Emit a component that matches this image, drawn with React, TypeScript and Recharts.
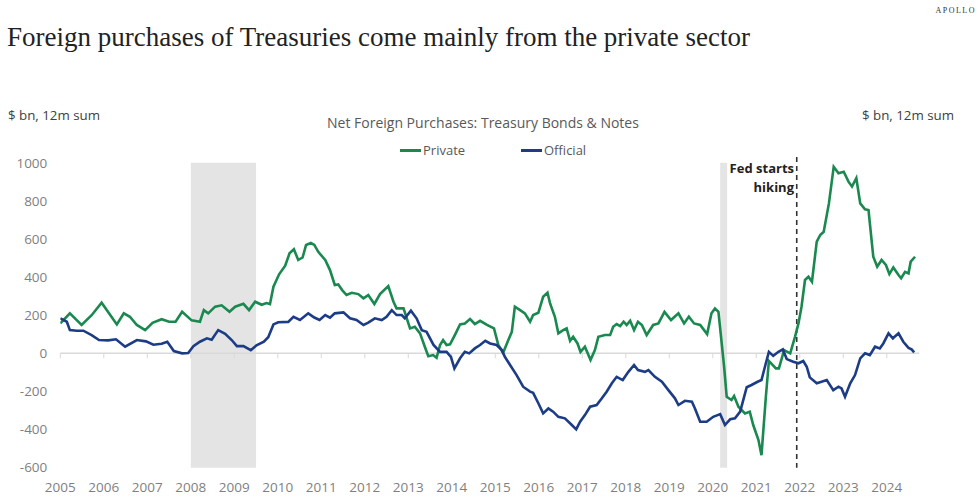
import { LineChart, Line, XAxis, YAxis, ReferenceArea, ReferenceLine } from 'recharts';

// year ticks and value ticks
const years = [2005, 2006, 2007, 2008, 2009, 2010, 2011, 2012, 2013, 2014, 2015, 2016, 2017, 2018, 2019, 2020, 2021, 2022, 2023, 2024];
const valueTicks = [-600, -400, -200, 0, 200, 400, 600, 800, 1000];

// recessions (shaded) and Fed hiking marker
const recessions = [
  [2008.0, 2009.5],
  [2020.17, 2020.33],
];
const fedHike = 2021.93;

// Private, $bn 12m sum: [decimal year, value]
const privatePoints: [number, number][] = [
  [2005.0, 157], [2005.22, 210], [2005.49, 149], [2005.72, 200], [2005.95, 266], [2006.3, 152], [2006.46, 210],
  [2006.6, 192], [2006.76, 149], [2006.95, 122], [2007.12, 160], [2007.33, 179], [2007.5, 166], [2007.65, 166],
  [2007.8, 218], [2008.02, 173], [2008.21, 166], [2008.3, 227], [2008.4, 210], [2008.56, 245], [2008.71, 252],
  [2008.89, 218], [2009.02, 245], [2009.21, 260], [2009.34, 227], [2009.48, 271], [2009.63, 255], [2009.74, 264],
  [2009.82, 259], [2009.9, 350], [2010.03, 415], [2010.17, 460], [2010.27, 525], [2010.37, 546], [2010.47, 490],
  [2010.57, 503], [2010.65, 569], [2010.76, 579], [2010.84, 569], [2010.93, 533], [2011.09, 490], [2011.2, 437],
  [2011.31, 359], [2011.39, 362], [2011.48, 332], [2011.58, 306], [2011.7, 318], [2011.85, 311], [2011.97, 289],
  [2012.08, 306], [2012.22, 259], [2012.35, 311], [2012.54, 353], [2012.66, 271], [2012.73, 236], [2012.89, 236],
  [2013.04, 131], [2013.15, 140], [2013.27, 105], [2013.38, 35], [2013.46, -15], [2013.57, -9], [2013.65, -23],
  [2013.73, 44], [2013.8, 70], [2013.88, 44], [2013.96, 47], [2014.07, 96], [2014.19, 152], [2014.3, 157],
  [2014.42, 180], [2014.53, 154], [2014.65, 171], [2014.81, 149], [2014.97, 131], [2015.07, 44], [2015.18, 3],
  [2015.3, 70], [2015.38, 113], [2015.45, 245], [2015.57, 227], [2015.68, 210], [2015.8, 166], [2015.87, 201],
  [2015.99, 213], [2016.1, 297], [2016.2, 318], [2016.26, 262], [2016.37, 192], [2016.45, 105], [2016.56, 122],
  [2016.64, 131], [2016.72, 66], [2016.79, 87], [2016.89, 52], [2016.96, 8], [2017.06, 35], [2017.19, -35],
  [2017.29, 17], [2017.37, 87], [2017.52, 96], [2017.64, 96], [2017.71, 140], [2017.79, 154], [2017.87, 143],
  [2017.95, 166], [2018.02, 149], [2018.1, 171], [2018.19, 122], [2018.28, 166], [2018.37, 149], [2018.48, 96],
  [2018.63, 149], [2018.75, 157], [2018.89, 218], [2019.04, 175], [2019.21, 210], [2019.34, 157], [2019.45, 192],
  [2019.57, 157], [2019.71, 149], [2019.87, 101], [2019.97, 210], [2020.05, 236], [2020.13, 218], [2020.19, 87],
  [2020.26, -70], [2020.32, -228], [2020.43, -245], [2020.49, -224], [2020.59, -280], [2020.74, -315], [2020.85, -306],
  [2020.93, -376], [2021.05, -455], [2021.12, -534], [2021.22, -228], [2021.29, -40], [2021.45, -79], [2021.52, -79],
  [2021.64, 17], [2021.78, 0], [2021.89, 87], [2021.97, 157], [2022.04, 245], [2022.12, 385], [2022.2, 402],
  [2022.28, 376], [2022.39, 586], [2022.47, 621], [2022.55, 638], [2022.67, 787], [2022.78, 979], [2022.89, 945],
  [2023.01, 953], [2023.12, 901], [2023.2, 875], [2023.3, 919], [2023.39, 787], [2023.5, 756], [2023.58, 752],
  [2023.69, 507], [2023.78, 455], [2023.88, 490], [2023.98, 464], [2024.06, 416], [2024.15, 451], [2024.27, 411],
  [2024.33, 394], [2024.42, 428], [2024.5, 420], [2024.55, 481], [2024.65, 507],
];

// Official, $bn 12m sum
const officialPoints: [number, number][] = [
  [2005.0, 184], [2005.15, 166], [2005.22, 122], [2005.38, 119], [2005.53, 119], [2005.72, 96], [2005.89, 70],
  [2006.1, 68], [2006.28, 74], [2006.49, 35], [2006.76, 70], [2006.97, 63], [2007.14, 45], [2007.33, 50],
  [2007.46, 61], [2007.61, 12], [2007.8, 0], [2007.94, 2], [2008.06, 38], [2008.21, 61], [2008.37, 79],
  [2008.48, 72], [2008.63, 122], [2008.79, 103], [2008.94, 70], [2009.06, 38], [2009.21, 38], [2009.38, 17],
  [2009.51, 42], [2009.68, 61], [2009.78, 85], [2009.9, 152], [2010.01, 163], [2010.24, 165], [2010.36, 192],
  [2010.51, 175], [2010.7, 210], [2010.84, 188], [2010.96, 175], [2011.09, 201], [2011.2, 187], [2011.31, 210],
  [2011.51, 215], [2011.66, 184], [2011.81, 175], [2011.97, 149], [2012.08, 161], [2012.23, 184], [2012.39, 175],
  [2012.5, 192], [2012.62, 227], [2012.73, 201], [2012.85, 201], [2012.92, 184], [2013.06, 224], [2013.19, 184],
  [2013.31, 122], [2013.42, 113], [2013.58, 44], [2013.73, 8], [2013.88, 8], [2013.98, -18], [2014.06, -79],
  [2014.19, -26], [2014.3, 8], [2014.4, 0], [2014.53, 26], [2014.65, 44], [2014.77, 66], [2014.88, 52],
  [2015.03, 44], [2015.15, 17], [2015.22, -18], [2015.34, -61], [2015.49, -114], [2015.64, -175], [2015.8, -201],
  [2015.87, -207], [2015.99, -262], [2016.1, -315], [2016.22, -289], [2016.33, -306], [2016.45, -333], [2016.6, -341],
  [2016.76, -376], [2016.86, -399], [2016.95, -359], [2017.06, -324], [2017.18, -280], [2017.33, -271], [2017.45, -236],
  [2017.56, -201], [2017.68, -157], [2017.79, -123], [2017.93, -140], [2018.06, -97], [2018.19, -61], [2018.28, -88],
  [2018.44, -97], [2018.52, -88], [2018.67, -123], [2018.83, -149], [2018.98, -193], [2019.13, -236], [2019.21, -271],
  [2019.36, -249], [2019.52, -254], [2019.59, -289], [2019.71, -359], [2019.86, -359], [2020.01, -333], [2020.17, -319],
  [2020.28, -376], [2020.4, -346], [2020.51, -341], [2020.63, -306], [2020.78, -178], [2020.89, -166], [2021.03, -149],
  [2021.12, -140], [2021.22, -52], [2021.29, 8], [2021.39, -13], [2021.51, 8], [2021.61, 21], [2021.7, -30],
  [2021.85, -44], [2021.97, -52], [2022.08, -40], [2022.16, -70], [2022.23, -126], [2022.39, -157], [2022.5, -149],
  [2022.62, -140], [2022.77, -193], [2022.89, -175], [2022.96, -184], [2023.04, -228], [2023.16, -157], [2023.27, -114],
  [2023.39, -26], [2023.5, 0], [2023.61, -9], [2023.73, 35], [2023.84, 26], [2023.92, 52], [2024.04, 105],
  [2024.14, 79], [2024.27, 105], [2024.38, 61], [2024.5, 29], [2024.57, 21], [2024.63, 5],
];

const series = [
  { name: 'Private', color: '#19894f', points: privatePoints },
  { name: 'Official', color: '#1d3c86', points: officialPoints },
];

const SANS = '"Open Sans", "Noto Sans", sans-serif';
const tickStyle = { fill: '#7f7f7f', fontSize: 13.5, fontFamily: SANS };

export default function App() {
  return (
    <div style={{ position: 'absolute', left: 0, top: 0, width: 978, height: 500, background: '#fff', overflow: 'hidden' }}>
      <div style={{ position: 'absolute', right: 2, top: 6, fontFamily: '"Liberation Serif", serif', fontSize: 8, letterSpacing: 1.5, color: '#333' }}>
        APOLLO
      </div>
      <div style={{ position: 'absolute', left: 7, top: 24, fontFamily: '"Liberation Serif", serif', fontSize: 27, lineHeight: '27px', color: '#222', whiteSpace: 'nowrap' }}>
        Foreign purchases of Treasuries come mainly from the private sector
      </div>

      <LineChart width={978} height={500} margin={{ top: 162.8, right: 0, bottom: 2.3, left: 0 }}>
        {recessions.map(([a, b]) => (
          <ReferenceArea key={a} yAxisId="left" x1={a} x2={b} y1={-600} y2={1000} fill="#e4e4e4" fillOpacity={1} stroke="none" />
        ))}
        <ReferenceLine yAxisId="left" y={0} stroke="#d9d9d9" strokeWidth={1.5} />
        {years.map(y => (
          <ReferenceLine key={y} yAxisId="left" segment={[{ x: y, y: 0 }, { x: y, y: -26 }]} stroke="#d9d9d9" strokeWidth={1} />
        ))}
        <XAxis
          dataKey="t"
          type="number"
          domain={[2005, 2024.75]}
          ticks={years}
          interval={0}
          allowDataOverflow
          axisLine={false}
          tickLine={false}
          tickSize={0}
          tickMargin={15}
          height={30}
          tick={tickStyle}
        />
        <YAxis yAxisId="left" orientation="left" width={60.3} domain={[-600, 1000]} ticks={valueTicks}
          axisLine={false} tickLine={false} tickSize={0} tickMargin={13} tick={tickStyle} />
        <YAxis yAxisId="right" orientation="right" width={58.6} domain={[-600, 1000]} ticks={valueTicks}
          axisLine={false} tickLine={false} tickSize={0} tickMargin={12} tick={{ ...tickStyle, textAnchor: 'start' }} />
        <ReferenceLine yAxisId="left" ifOverflow="visible" segment={[{ x: fedHike, y: 1030 }, { x: fedHike, y: -600 }]}
          stroke="#333" strokeWidth={1.6} strokeDasharray="5 4" />
        {series.map(s => (
          <Line
            key={s.name}
            yAxisId="left"
            data={s.points.map(([t, v]) => ({ t, v }))}
            dataKey="v"
            name={s.name}
            type="linear"
            stroke={s.color}
            strokeWidth={2.6}
            dot={false}
            activeDot={false}
            isAnimationActive={false}
          />
        ))}
      </LineChart>

      <div style={{ position: 'absolute', left: 8, top: 106, fontFamily: SANS, fontSize: 13.3, color: '#404040' }}>$ bn, 12m sum</div>
      <div style={{ position: 'absolute', left: 862, top: 106, fontFamily: SANS, fontSize: 13.3, color: '#404040' }}>$ bn, 12m sum</div>
      <div style={{ position: 'absolute', left: 327, top: 113, fontFamily: SANS, fontSize: 14, color: '#595959', whiteSpace: 'nowrap' }}>
        Net Foreign Purchases: Treasury Bonds &amp; Notes
      </div>
      {series.map((s, i) => (
        <div key={s.name} style={{ position: 'absolute', left: 400 + i * 121, top: 141, display: 'flex', alignItems: 'center', fontFamily: SANS, fontSize: 13, color: '#595959' }}>
          <span style={{ display: 'inline-block', width: 21, height: 3, background: s.color, marginRight: 2 }} />
          {s.name}
        </div>
      ))}
      <div style={{ position: 'absolute', right: 978 - 794, top: 159, textAlign: 'right', fontFamily: SANS, fontWeight: 700, fontSize: 13, lineHeight: '19px', color: '#222' }}>
        Fed starts<br />hiking
      </div>
    </div>
  );
}
